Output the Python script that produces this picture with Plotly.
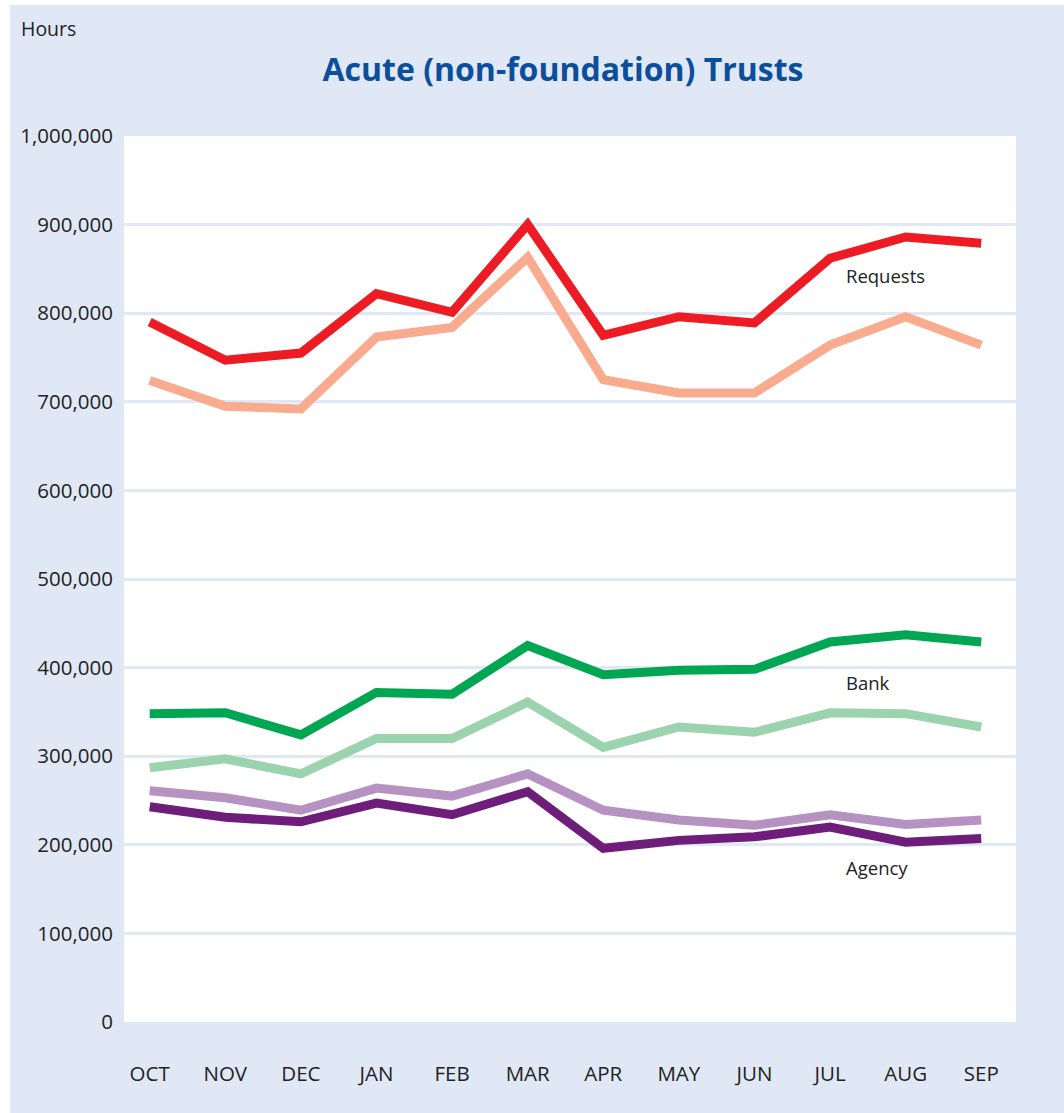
import plotly.graph_objects as go

months = ["OCT", "NOV", "DEC", "JAN", "FEB", "MAR", "APR", "MAY", "JUN", "JUL", "AUG", "SEP"]

requests_dark = [790000, 747000, 755000, 822000, 801000, 900000, 775000, 796000, 789000, 862000, 886000, 879000]
requests_light = [724000, 695000, 692000, 773000, 784000, 863000, 725000, 710000, 710000, 764000, 796000, 764000]
bank_dark = [348000, 349000, 324000, 372000, 370000, 425000, 392000, 397000, 398000, 429000, 437000, 429000]
bank_light = [287000, 297000, 280000, 320000, 320000, 361000, 310000, 333000, 327000, 349000, 348000, 333000]
agency_light = [261000, 253000, 239000, 264000, 255000, 280000, 239000, 228000, 222000, 234000, 223000, 228000]
agency_dark = [243000, 231000, 226000, 247000, 234000, 260000, 196000, 205000, 209000, 220000, 203000, 207000]

y_ticks = list(range(0, 1000001, 100000))
y_tick_text = [f"{v:,}" for v in y_ticks]

series = [
    ("Requests (light)", requests_light, "#F9AB8F"),
    ("Requests", requests_dark, "#ED1C24"),
    ("Bank (light)", bank_light, "#9CD3AF"),
    ("Bank", bank_dark, "#00A651"),
    ("Agency (light)", agency_light, "#B592C1"),
    ("Agency", agency_dark, "#6F1D7B"),
]

FONT = "Open Sans, Noto Sans, sans-serif"
BG = "#E1E8F5"

fig = go.Figure()
for name, vals, col in series:
    fig.add_trace(go.Scatter(x=list(range(len(months))), y=vals, mode="lines", name=name,
                             line=dict(color=col, width=9), showlegend=False))

labels = [("Requests", 842000), ("Bank", 383000), ("Agency", 174000)]
for txt, yv in labels:
    fig.add_annotation(x=9.19, y=yv, text=txt, showarrow=False, xanchor="left", yanchor="middle",
                       font=dict(family=FONT, size=18.5, color="#222222"))

fig.add_annotation(xref="paper", yref="paper", x=(19 - 124) / 892, y=(1022 - 28) / 886, text="Hours",
                   showarrow=False, xanchor="left", yanchor="middle",
                   font=dict(family=FONT, size=19.5, color="#222222"))

# thin white border at top and left of the page
fig.add_shape(type="rect", xref="paper", yref="paper", x0=-0.2, x1=(10 - 124) / 892,
              y0=-0.2, y1=1.3, fillcolor="white", line_width=0, layer="above")
fig.add_shape(type="rect", xref="paper", yref="paper", x0=-0.2, x1=1.2,
              y0=(1022 - 5) / 886, y1=1.3, fillcolor="white", line_width=0, layer="above")

fig.update_layout(
    width=1064, height=1113,
    margin=dict(l=124, r=48, t=136, b=91),
    paper_bgcolor=BG, plot_bgcolor="white",
    title=dict(text="Acute (non-foundation) Trusts", x=563 / 1064,
               xanchor="center", y=1 - 70 / 1113, yanchor="middle",
               font=dict(family=FONT, size=32, weight=700, color="#0B4F9C")),
    font=dict(family=FONT, size=20.5, color="#222222"),
    xaxis=dict(tickmode="array", tickvals=list(range(len(months))), ticktext=months,
               range=[-0.34, 11.46], showgrid=False, zeroline=False, showline=False,
               ticks="", ticklabelstandoff=37, tickfont=dict(size=20.5, color="#222222")),
    yaxis=dict(tickmode="array", tickvals=y_ticks, ticktext=y_tick_text, range=[0, 1000000],
               showgrid=True, gridcolor=BG, gridwidth=2.5, zeroline=False, showline=False,
               ticks="", ticklabelstandoff=10, tickfont=dict(size=20.5, color="#222222")),
)

fig.write_html("out.html", config={"displayModeBar": False},
               post_script="document.body.style.margin='0';")
